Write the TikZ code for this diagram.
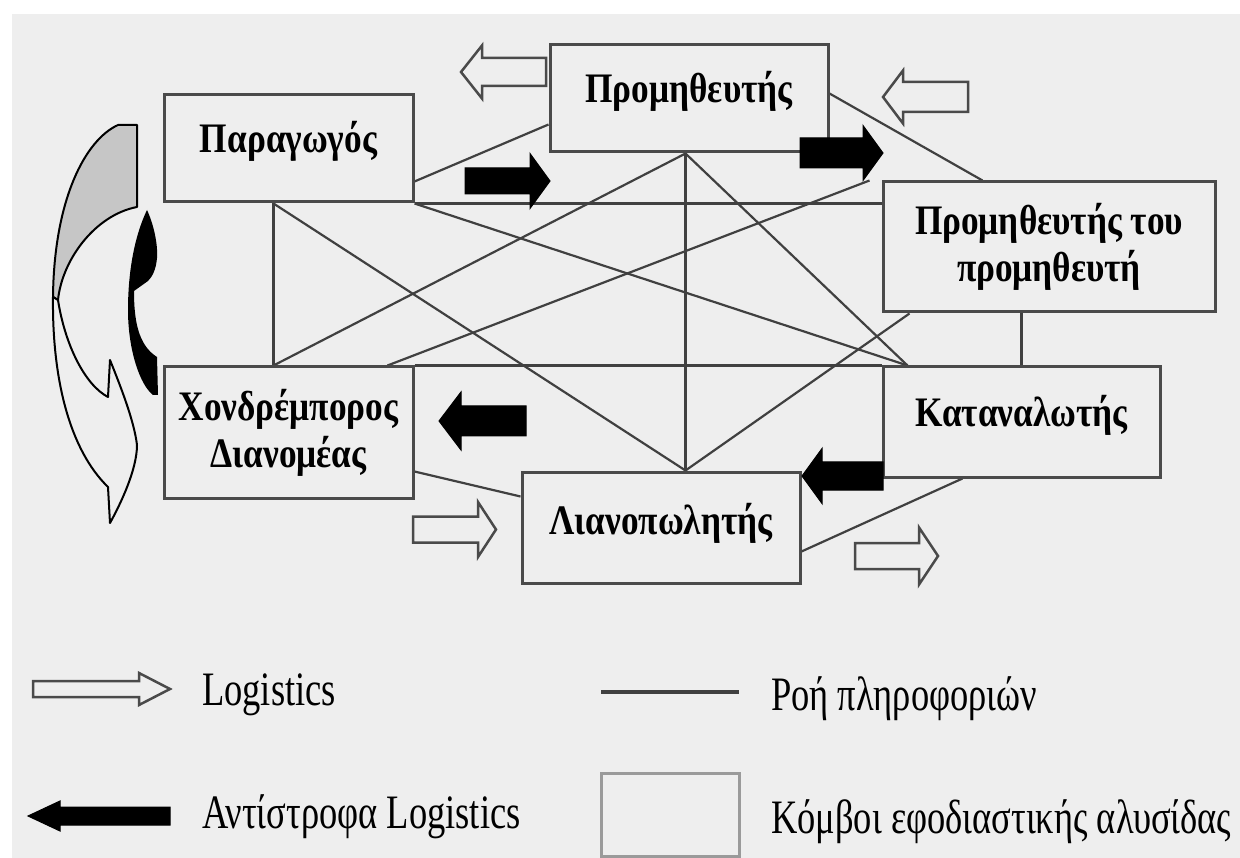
\documentclass[tikz,border=0pt]{standalone}
\usepackage{fontspec}
\setmainfont{Liberation Serif}
\newfontfamily\boxfont[FakeStretch=0.84]{Liberation Serif}
\newfontfamily\legfont[FakeStretch=0.76]{Liberation Serif}
\usetikzlibrary{calc}
\pgfdeclarelayer{back}
\pgfsetlayers{back,main}
\definecolor{bg}{HTML}{EEEEEE}
\definecolor{edge}{HTML}{4A4A4A}
\definecolor{wire}{HTML}{404040}
\definecolor{ribbon}{HTML}{C6C6C6}
\definecolor{legbox}{HTML}{9A9A9A}
% raise a label without changing its centring box
\newcommand\liftlabel[2][7pt]{\raisebox{#1}[\height][\depth]{#2}}
% block arrow: style, tip x, tip y, side (1 = body to the right, points left), length, head length, head half, shaft half
\newcommand\blockarr[8]{%
  \draw[#1] (#2,#3) -- ++({#4*#6},{-#7}) -- ++(0,{#7-#8}) -- ++({#4*(#5-#6)},0)
    -- ++(0,{2*#8}) -- ++({-#4*(#5-#6)},0) -- ++(0,{#7-#8}) -- cycle;}
\begin{document}
\begin{tikzpicture}[x=1pt,y=-1pt,
  nodebox/.style={draw=edge, line width=3pt, fill=bg, inner sep=0pt, align=center,
    font=\boxfont\bfseries\fontsize{42}{47}\selectfont},
  info/.style={draw=wire, line width=2.2pt},
  openarr/.style={draw=edge, fill=bg, line width=2.5pt, line join=miter},
  revarr/.style={draw=black, fill=black, line width=1pt, line join=miter},
  legtext/.style={anchor=base west, inner sep=0pt, font=\legfont\fontsize{48}{52}\selectfont},
  curveline/.style={draw=black, line width=2pt, line join=round}]
\useasboundingbox (0,0) rectangle (1240,858);
\begin{pgfonlayer}{back}
\fill[white] (0,0) rectangle (1240,858);
\fill[bg] (12,14) rectangle (1240,858);
\end{pgfonlayer}

% supply chain nodes
\path
  (288.5,148.5) node[nodebox, minimum width=249pt, minimum height=107pt] (par) {\liftlabel{Παραγωγός}}
  (689,98.5)    node[nodebox, minimum width=278pt, minimum height=107pt] (prom) {\liftlabel{Προμηθευτής}}
  (1049,247)    node[nodebox, minimum width=332pt, minimum height=130pt] (pp) {Προμηθευτής του\\προμηθευτή}
  (1021.5,422)  node[nodebox, minimum width=277pt, minimum height=110pt] (kat) {\liftlabel{Καταναλωτής}}
  (288.5,432.5) node[nodebox, minimum width=249pt, minimum height=131pt] (xon) {Χονδρέμπορος\\Διανομέας}
  (661,527.5)   node[nodebox, minimum width=278pt, minimum height=111pt] (lian) {\liftlabel[4pt]{Λιανοπωλητής}};

% connection points
\coordinate (parR)  at ($(par.south east)+(0,-22)$);
\coordinate (parB)  at ($(par.south west)+(111,0)$);
\coordinate (promL) at ($(prom.south west)+(0,-29)$);
\coordinate (promB) at ($(prom.south west)+(137,0)$);
\coordinate (promR) at ($(prom.north east)+(0,50)$);
\coordinate (ppT)   at ($(pp.north west)+(101,0)$);
\coordinate (ppTL)  at ($(pp.north west)+(-12,0)$);
\coordinate (ppB)   at ($(pp.south west)+(140,0)$);
\coordinate (ppBL)  at ($(pp.south west)+(28,0)$);
\coordinate (katT)  at ($(kat.north west)+(140,0)$);
\coordinate (katTL) at ($(kat.north west)+(26,0)$);
\coordinate (katB)  at ($(kat.south west)+(81,0)$);
\coordinate (xonT)  at ($(xon.north west)+(111,0)$);
\coordinate (xonTR) at ($(xon.north west)+(225,0)$);
\coordinate (xonR)  at ($(xon.north east)+(0,106)$);
\coordinate (lianT) at ($(lian.north west)+(165,0)$);
\coordinate (lianL) at ($(lian.north west)+(0,26)$);
\coordinate (lianR) at ($(lian.north east)+(0,81)$);

% information flow (behind the boxes)
\begin{pgfonlayer}{back}
\draw[info] (parR) -- (promL);
\draw[info] (par.south east) -- (par.south east -| pp.west);
\draw[info] (parB) -- (xonT);
\draw[info] (parB) -- (lianT);
\draw[info] (par.south east) -- (katTL);
\draw[info] (promB) -- (lianT);
\draw[info] (promB) -- (xonT);
\draw[info] (promB) -- (katTL);
\draw[info] (promR) -- (ppT);
\draw[info] (xonTR) -- (ppTL);
\draw[info] (ppB) -- (katT);
\draw[info] (ppBL) -- (lianT);
\draw[info] (xon.north east) -- (kat.north west);
\draw[info] (xonR) -- (lianL);
\draw[info] (lianR) -- (katB);
\end{pgfonlayer}

% logistics (open) arrows
\blockarr{openarr}{461}{72}{1}{85}{21}{26.5}{14}
\blockarr{openarr}{883}{97}{1}{85}{20}{26.5}{15}
\blockarr{openarr}{496}{529.5}{-1}{83}{18}{27.5}{13}
\blockarr{openarr}{938}{556}{-1}{83}{19}{28.5}{13}
% reverse logistics (black) arrows
\blockarr{revarr}{550}{181}{-1}{85}{20}{27.5}{13}
\blockarr{revarr}{883}{153}{-1}{83}{20}{27.5}{15}
\blockarr{revarr}{439}{421}{1}{87}{22}{29}{15}
\blockarr{revarr}{802}{476}{1}{81}{20}{27.5}{14}

% curved arrow on the left (grey back, white front)
\filldraw[curveline, fill=ribbon] (137,125) -- (118,125)
  .. controls (85,140) and (54,200) .. (53,297) -- (58,300)
  .. controls (62,260) and (95,215) .. (137,207) -- cycle;
\filldraw[curveline, fill=bg] (53,297)
  .. controls (52,380) and (70,450) .. (108,487) -- (110,523)
  .. controls (120,505) and (137,470) .. (137,445)
  .. controls (134,420) and (120,385) .. (110,360) -- (108,397)
  .. controls (85,385) and (65,345) .. (58,300) -- cycle;
% black curved arrow
\fill[black] (147,210) .. controls (154,225) and (158,245) .. (157,258)
  .. controls (156,270) and (152,277) .. (148,281) -- (134,291)
  .. controls (134,320) and (138,345) .. (157,357) -- (158,395) -- (153,395)
  .. controls (140,385) and (128,350) .. (128,310)
  .. controls (128,270) and (135,235) .. (147,210) -- cycle;

% legend
\blockarr{openarr}{170}{689}{-1}{137}{31}{16}{8}
\node[legtext] (lg1) at (202,705) {Logistics};
\coordinate (ls1) at (601,692);
\coordinate (ls2) at (739,692);
\draw[draw=wire, line width=4pt] (ls1) -- (ls2);
\node[legtext] (lg2) at (771,710) {Ροή πληροφοριών};
\blockarr{revarr}{28}{816}{1}{142}{32}{15}{9}
\node[legtext] (lg3) at (202,828) {Αντίστροφα Logistics};
\node[draw=legbox, line width=3pt, fill=bg, minimum width=138pt, minimum height=83pt, inner sep=0pt] (lgbox) at (670,814.5) {};
\node[legtext] (lg4) at (771,833) {Κόμβοι εφοδιαστικής αλυσίδας};
\end{tikzpicture}
\end{document}
